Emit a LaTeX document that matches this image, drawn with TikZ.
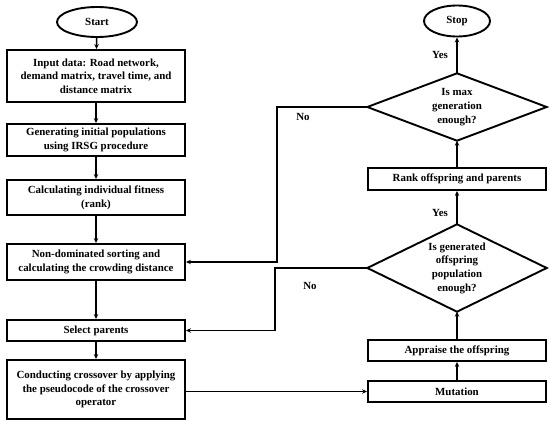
\documentclass[tikz,border=0pt]{standalone}
\usepackage{fontspec}
\setmainfont{Liberation Serif}
\usetikzlibrary{arrows.meta,shapes.geometric}
\begin{document}
\begin{tikzpicture}[x=1pt,y=-1pt,
  font=\fontsize{10.9}{13.7}\selectfont\bfseries,
  box/.style={draw,line width=1.9pt,inner sep=0pt,minimum width=178pt,align=center},
  term/.style={draw,ellipse,line width=1.9pt,inner sep=0pt},
  dtext/.style={inner sep=0pt,minimum width=179pt,align=center},
  dia/.style={line width=1.9pt,line join=miter},
  conn/.style={line width=1.6pt,-{Stealth[length=5pt,width=4.5pt]}},
  lbl/.style={inner sep=0pt}]
\useasboundingbox (0,0) rectangle (550,423);
% left column
\node[term,minimum width=80pt,minimum height=30pt] (start) at (97,22) {Start};
\node[box,minimum height=52pt] (input) at (96,76) {Input data: Road network,\\demand matrix, travel time, and\\distance matrix};
\node[box,minimum height=32pt] (gen) at (96,140) {Generating initial populations\\using IRSG procedure};
\node[box,minimum height=35pt] (calc) at (96,197.5) {Calculating individual fitness\\(rank)};
\node[box,minimum height=36pt] (nds) at (96,262) {Non-dominated sorting and\\calculating the crowding distance};
\node[box,minimum height=21pt] (sel) at (96,330.5) {Select parents};
\node[box,minimum height=59pt] (cross) at (96,389.5) {Conducting crossover by applying\\the pseudocode of the crossover\\operator};
% right column
\node[term,minimum width=66pt,minimum height=31pt] (stop) at (457,21) {Stop};
\node[dtext,minimum height=67pt] (maxg) at (457,107) {Is max\\generation\\enough?};
\draw[dia] (maxg.west) -- (maxg.north) -- (maxg.east) -- (maxg.south) -- cycle;
\node[box,minimum height=22pt] (rank) at (457,179) {Rank offspring and parents};
\node[dtext,minimum height=87pt] (geno) at (457,268) {Is generated\\offspring\\population\\enough?};
\draw[dia] (geno.west) -- (geno.north) -- (geno.east) -- (geno.south) -- cycle;
\node[box,minimum height=21pt] (appr) at (457,350.5) {Appraise the offspring};
\node[box,minimum height=21pt] (mut) at (457,391.5) {Mutation};
% connectors
\draw[conn] (start) -- (input);
\draw[conn] (input) -- (gen);
\draw[conn] (gen) -- (calc);
\draw[conn] (calc) -- (nds);
\draw[conn] (nds) -- (sel);
\draw[conn] (sel) -- (cross);
\draw[conn] (cross.east |- mut) -- (mut.west);
\draw[conn] (mut) -- (appr);
\draw[conn] (appr) -- (geno.south);
\draw[conn] (geno.north) -- (rank);
\draw[conn] (rank) -- (maxg.south);
\draw[conn] (maxg.north) -- (stop);
\coordinate (k1) at (277,107);
\coordinate (k2) at (275,268);
\draw[conn] (maxg.west) -- (k1) |- (nds.east);
\draw[conn] (geno.west) -- (k2) |- (sel.east);
% labels
\node[lbl] (y1) at (440,55) {Yes};
\node[lbl] (y2) at (440,213) {Yes};
\node[lbl] (n1) at (303,117) {No};
\node[lbl] (n2) at (310,286) {No};
\end{tikzpicture}
\end{document}
